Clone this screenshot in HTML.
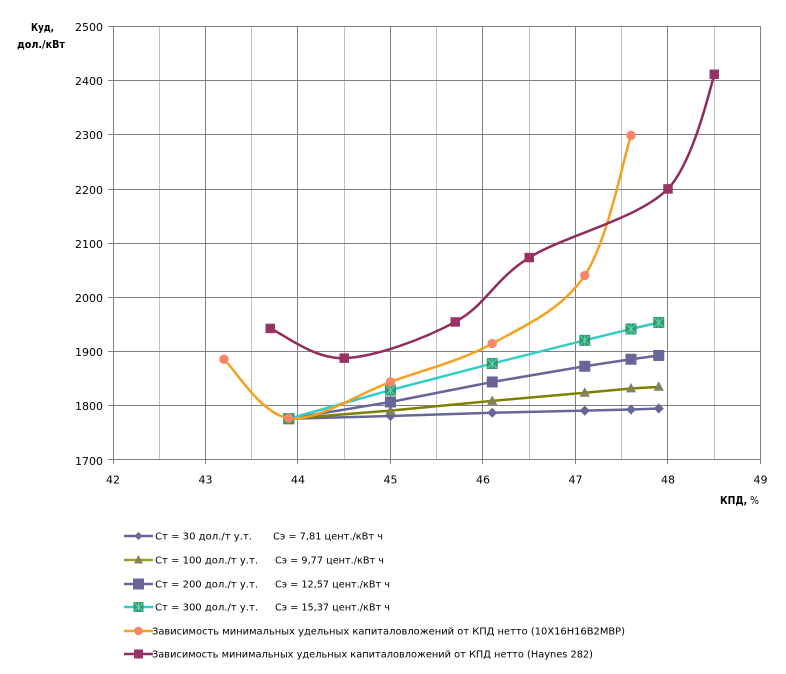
<!DOCTYPE html>
<html><head><meta charset="utf-8"><style>
html,body{margin:0;padding:0;background:#fff;}
svg{display:block;}
text{font-family:"DejaVu Sans","Liberation Sans",sans-serif;fill:#000;}
</style></head><body>
<svg width="786" height="674" viewBox="0 0 786 674" xmlns="http://www.w3.org/2000/svg">
<rect width="786" height="674" fill="#fff"/>
<!-- minor vertical grid -->
<g stroke="#c0c0c0" stroke-width="1">
<line x1="159.5" y1="26.5" x2="159.5" y2="459.5"/>
<line x1="251.5" y1="26.5" x2="251.5" y2="459.5"/>
<line x1="344.5" y1="26.5" x2="344.5" y2="459.5"/>
<line x1="436.5" y1="26.5" x2="436.5" y2="459.5"/>
<line x1="529.5" y1="26.5" x2="529.5" y2="459.5"/>
<line x1="621.5" y1="26.5" x2="621.5" y2="459.5"/>
<line x1="714.5" y1="26.5" x2="714.5" y2="459.5"/>
</g>
<!-- major vertical grid + ticks -->
<g stroke="#808080" stroke-width="1">
<line x1="113.5" y1="26.5" x2="113.5" y2="464"/>
<line x1="205.5" y1="26.5" x2="205.5" y2="464"/>
<line x1="297.5" y1="26.5" x2="297.5" y2="464"/>
<line x1="390.5" y1="26.5" x2="390.5" y2="464"/>
<line x1="482.5" y1="26.5" x2="482.5" y2="464"/>
<line x1="575.5" y1="26.5" x2="575.5" y2="464"/>
<line x1="667.5" y1="26.5" x2="667.5" y2="464"/>
<line x1="760.5" y1="26.5" x2="760.5" y2="464"/>
</g>
<!-- horizontal grid + ticks -->
<g stroke="#808080" stroke-width="1">
<line x1="108" y1="26.5" x2="760.5" y2="26.5"/>
<line x1="108" y1="80.5" x2="760.5" y2="80.5"/>
<line x1="108" y1="134.5" x2="760.5" y2="134.5"/>
<line x1="108" y1="189.5" x2="760.5" y2="189.5"/>
<line x1="108" y1="243.5" x2="760.5" y2="243.5"/>
<line x1="108" y1="297.5" x2="760.5" y2="297.5"/>
<line x1="108" y1="351.5" x2="760.5" y2="351.5"/>
<line x1="108" y1="405.5" x2="760.5" y2="405.5"/>
<line x1="108" y1="459.5" x2="760.5" y2="459.5"/>
</g>
<!-- y tick labels -->
<g font-size="11" text-anchor="end">
<text x="103" y="31">2500</text>
<text x="103" y="85">2400</text>
<text x="103" y="139">2300</text>
<text x="103" y="194">2200</text>
<text x="103" y="248">2100</text>
<text x="103" y="302">2000</text>
<text x="103" y="356">1900</text>
<text x="103" y="410">1800</text>
<text x="103" y="465">1700</text>
</g>
<!-- x tick labels -->
<g font-size="11" text-anchor="middle">
<text x="113" y="483.5">42</text>
<text x="205.5" y="483.5">43</text>
<text x="298" y="483.5">44</text>
<text x="390.5" y="483.5">45</text>
<text x="483" y="483.5">46</text>
<text x="575.5" y="483.5">47</text>
<text x="668" y="483.5">48</text>
<text x="760.5" y="483.5">49</text>
</g>
<!-- axis titles -->
<text x="42.5" y="31" font-size="11" font-weight="bold" text-anchor="middle" textLength="23" lengthAdjust="spacingAndGlyphs">Куд,</text>
<text x="41" y="48" font-size="11" font-weight="bold" text-anchor="middle" textLength="48" lengthAdjust="spacingAndGlyphs">дол./кВт</text>
<text x="720" y="504" font-size="11" textLength="39" lengthAdjust="spacingAndGlyphs"><tspan font-weight="bold">КПД,</tspan> %</text>

<!-- Series 1: Ст=30 -->
<polyline fill="none" stroke="#666699" stroke-width="2.5" stroke-linejoin="round" points="288.75,418.74 390.5,416.04 492.25,412.79 584.75,410.63 631,409.55 658.75,408.46"/>
<g fill="#666699">
<polygon points="288.75,413.7 293.8,418.74 288.75,423.8 283.7,418.74"/>
<polygon points="390.5,411 395.5,416.04 390.5,421.1 385.5,416.04"/>
<polygon points="492.25,407.8 497.3,412.79 492.25,417.8 487.2,412.79"/>
<polygon points="584.75,405.6 589.8,410.63 584.75,415.7 579.7,410.63"/>
<polygon points="631,404.5 636,409.55 631,414.6 626,409.55"/>
<polygon points="658.75,403.4 663.8,408.46 658.75,413.5 653.7,408.46"/>
</g>
<!-- Series 2: Ст=100 -->
<polyline fill="none" stroke="#808000" stroke-width="2.5" stroke-linejoin="round" points="288.75,418.74 390.5,410.63 492.25,400.89 584.75,392.78 631,388.46 658.75,386.83"/>
<g fill="#83825e">
<polygon points="288.75,413.2 293.9,422.7 283.6,422.7"/>
<polygon points="390.5,405.1 395.6,414.6 385.4,414.6"/>
<polygon points="492.25,395.4 497.4,404.9 487.1,404.9"/>
<polygon points="584.75,387.3 589.9,396.8 579.6,396.8"/>
<polygon points="631,382.9 636.1,392.4 625.9,392.4"/>
<polygon points="658.75,381.3 663.9,390.8 653.6,390.8"/>
</g>
<!-- Series 3: Ст=200 -->
<polyline fill="none" stroke="#666699" stroke-width="2.5" stroke-linejoin="round" points="288.75,418.74 390.5,401.98 492.25,381.97 584.75,366.28 631,359.25 658.75,355.47"/>
<g fill="#666699">
<rect x="283.25" y="413.24" width="11" height="11"/>
<rect x="385" y="396.48" width="11" height="11"/>
<rect x="486.75" y="376.47" width="11" height="11"/>
<rect x="579.25" y="360.78" width="11" height="11"/>
<rect x="625.5" y="353.75" width="11" height="11"/>
<rect x="653.25" y="349.97" width="11" height="11"/>
</g>
<!-- Series 4: Ст=300 -->
<polyline fill="none" stroke="#33cccc" stroke-width="2.5" stroke-linejoin="round" points="288.75,418.74 390.5,390.08 492.25,363.58 584.75,340.32 631,328.97 658.75,322.48"/>
<g fill="#339966">
<rect x="283.25" y="413.24" width="11" height="11"/>
<rect x="385" y="384.58" width="11" height="11"/>
<rect x="486.75" y="358.08" width="11" height="11"/>
<rect x="579.25" y="334.82" width="11" height="11"/>
<rect x="625.5" y="323.47" width="11" height="11"/>
<rect x="653.25" y="316.98" width="11" height="11"/>
</g>
<g stroke="#5fd6c0" stroke-width="1">
<path d="M386,385.6 l9,9 M395,385.6 l-9,9 M390.5,385 v10"/>
<path d="M487.75,359.1 l9,9 M496.75,359.1 l-9,9 M492.25,358.5 v10"/>
<path d="M580.25,335.8 l9,9 M589.25,335.8 l-9,9 M584.75,335.3 v10"/>
<path d="M626.5,324.5 l9,9 M635.5,324.5 l-9,9 M631,324 v10"/>
<path d="M654.25,318 l9,9 M663.25,318 l-9,9 M658.75,317.5 v10"/>
</g>
<!-- Series 5: orange -->
<path fill="none" stroke="#f5a020" stroke-width="2.5" stroke-linejoin="round" d="M224,359.25 C234.8,369.1 261,414.4 288.75,418.2 C316.5,422 356.6,394.4 390.5,381.97 C424.4,369.5 459.9,361.3 492.25,343.57 C524.6,325.8 561.6,310.1 584.75,275.43 C607.9,240.7 623.3,158.7 631,135.37"/>
<g fill="#fa8668">
<circle cx="224" cy="359.25" r="4.7"/>
<circle cx="288.75" cy="418.2" r="4.7"/>
<circle cx="390.5" cy="381.97" r="4.7"/>
<circle cx="492.25" cy="343.57" r="4.7"/>
<circle cx="584.75" cy="275.43" r="4.7"/>
<circle cx="631" cy="135.37" r="4.7"/>
</g>
<!-- Series 6: Haynes -->
<path fill="none" stroke="#8f2d5e" stroke-width="2.5" stroke-linejoin="round" d="M270.25,328.43 C282.6,333.4 313.4,359.3 344.25,358.17 C375.1,357.1 424.4,338.7 455.25,321.94 C486.1,305.2 493.8,279.8 529.25,257.58 C564.7,235.4 637.2,219.5 668,188.9 C690,165 705,110 714.25,74.25"/>
<g fill="#993366">
<rect x="265.5" y="323.7" width="9.5" height="9.5"/>
<rect x="339.5" y="353.4" width="9.5" height="9.5"/>
<rect x="450.5" y="317.2" width="9.5" height="9.5"/>
<rect x="524.5" y="252.8" width="9.5" height="9.5"/>
<rect x="663.25" y="184.15" width="9.5" height="9.5"/>
<rect x="709.5" y="69.5" width="9.5" height="9.5"/>
</g>

<!-- Legend -->
<g stroke-width="2.5">
<line x1="124" y1="536" x2="153" y2="536" stroke="#666699"/>
<line x1="124" y1="560" x2="153" y2="560" stroke="#a0a020"/>
<line x1="124" y1="584" x2="153" y2="584" stroke="#666699"/>
<line x1="124" y1="607" x2="153" y2="607" stroke="#33cccc"/>
<line x1="124" y1="631" x2="153" y2="631" stroke="#f5a020"/>
<line x1="124" y1="654" x2="153" y2="654" stroke="#8f2d5e"/>
</g>
<polygon points="138.5,532 142.5,536 138.5,540 134.5,536" fill="#666699"/>
<polygon points="138.5,555 143,563.5 134,563.5" fill="#83825e"/>
<rect x="133" y="578.5" width="11" height="11" fill="#666699"/>
<rect x="133.5" y="602" width="10" height="10" fill="#339966"/>
<path d="M134.5,603 l8,8 M142.5,603 l-8,8 M138.5,602.5 v9" stroke="#5fd6c0" stroke-width="1"/>
<circle cx="138.5" cy="631" r="4.3" fill="#fa8668"/>
<rect x="134" y="649.5" width="9" height="9" fill="#993366"/>

<g font-size="10" fill="#000">
<text x="155" y="539.5" textLength="97" lengthAdjust="spacingAndGlyphs">Ст = 30 дол./т у.т.</text>
<text x="273" y="539.5" textLength="110" lengthAdjust="spacingAndGlyphs">Сэ = 7,81 цент./кВт ч</text>
<text x="155" y="563.5" textLength="103" lengthAdjust="spacingAndGlyphs">Ст = 100 дол./т у.т.</text>
<text x="275" y="563.5" textLength="109" lengthAdjust="spacingAndGlyphs">Сэ = 9,77 цент./кВт ч</text>
<text x="155" y="587.5" textLength="103" lengthAdjust="spacingAndGlyphs">Ст = 200 дол./т у.т.</text>
<text x="275" y="587.5" textLength="115" lengthAdjust="spacingAndGlyphs">Сэ = 12,57 цент./кВт ч</text>
<text x="155" y="610.5" textLength="103" lengthAdjust="spacingAndGlyphs">Ст = 300 дол./т у.т.</text>
<text x="275" y="610.5" textLength="115" lengthAdjust="spacingAndGlyphs">Сэ = 15,37 цент./кВт ч</text>
<text x="152" y="634.5" textLength="473" lengthAdjust="spacingAndGlyphs">Зависимость минимальных удельных капиталовложений от КПД нетто (10X16H16B2MBP)</text>
<text x="152" y="657.5" textLength="441" lengthAdjust="spacingAndGlyphs">Зависимость минимальных удельных капиталовложений от КПД нетто (Haynes 282)</text>
</g>
</svg>
</body></html>
